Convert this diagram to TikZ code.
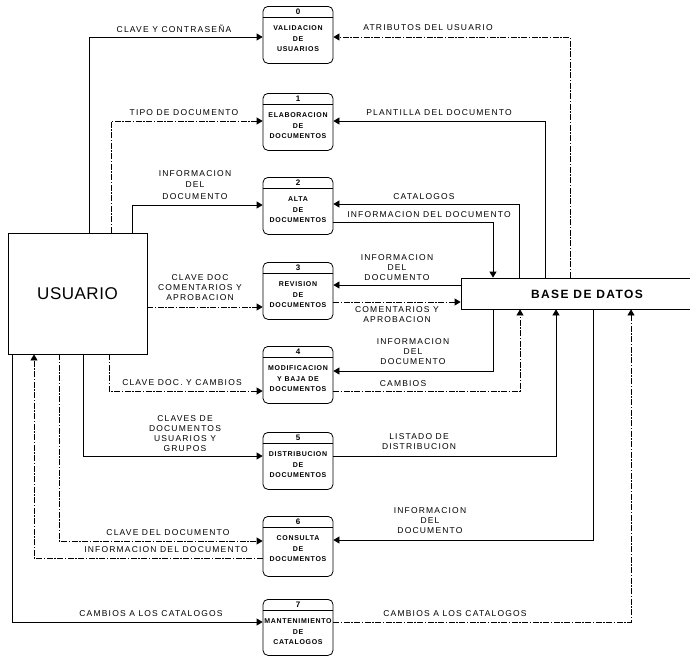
\documentclass[tikz,border=0pt]{standalone}
\usepackage{fontspec}
\setmainfont{Liberation Sans}
\newfontfamily\labfont[LetterSpace=14]{Liberation Sans}
\newfontfamily\boxfont[LetterSpace=10]{Liberation Sans}
\newfontfamily\dbfont[LetterSpace=12]{Liberation Sans}
\newfontfamily\usrfont[LetterSpace=3]{Liberation Sans}
\usetikzlibrary{arrows.meta,calc}
\newcommand\mkproc[8]{% name, x, top, height, num, l1, l2, l3
  \node[procbox, minimum height=#4pt, anchor=north] (#1) at (#2,#3) {};
  \draw ([yshift=-11pt]#1.north west) -- ([yshift=-11pt]#1.north east);
  \node[numtext] (#1n) at ([yshift=-5.5pt]#1.north) {#5};
  \node[boxtext] (#1t) at ([yshift=-33pt]#1.north) {#6\\#7\\#8};
}
\begin{document}
\begin{tikzpicture}[x=1pt,y=-1pt,line width=0.8pt,
  flow/.style={-{Triangle[length=6pt,width=7pt]}},
  dflow/.style={flow, dash pattern=on 6pt off 1.5pt on 1.5pt off 1.5pt},
  lab/.style={font=\labfont\fontsize{8.5}{10}\selectfont, align=center, inner sep=0pt},
  procbox/.style={draw, rounded corners=5pt, minimum width=70pt, inner sep=0pt},
  numtext/.style={font=\bfseries\fontsize{8}{9}\selectfont, inner sep=0pt},
  boxtext/.style={font=\boxfont\bfseries\fontsize{7}{10.5}\selectfont, align=center, inner sep=0pt},
  entity/.style={draw, minimum width=139pt, minimum height=121pt, inner sep=0pt,
    font=\usrfont\fontsize{17}{20}\selectfont},
  store/.style={draw, minimum width=239pt, minimum height=31pt, inner sep=0pt}
]
\useasboundingbox[fill=white] (0,0) rectangle (690,656);

% external entity and data store
\node[entity] (u) at (77.5,293.5) {USUARIO};
\node[store] (db) at (580.5,293.5) {};
\node[font=\dbfont\bfseries\fontsize{12}{14}\selectfont, inner sep=0pt] (dbt) at (587,294) {BASE DE DATOS};

% processes
\mkproc{p0}{298}{6}{57}{0}{VALIDACION}{DE}{USUARIOS}
\mkproc{p1}{298}{93}{57}{1}{ELABORACION}{DE}{DOCUMENTOS}
\mkproc{p2}{298}{177}{57}{2}{ALTA}{DE}{DOCUMENTOS}
\mkproc{p3}{298}{262}{57}{3}{REVISION}{DE}{DOCUMENTOS}
\mkproc{p4}{298}{346}{57}{4}{MODIFICACION}{Y BAJA DE}{DOCUMENTOS}
\mkproc{p5}{298}{432}{57}{5}{DISTRIBUCION}{DE}{DOCUMENTOS}
\mkproc{p6}{298}{516}{60}{6}{CONSULTA}{DE}{DOCUMENTOS}
\mkproc{p7}{298}{599}{56}{7}{MANTENIMIENTO}{DE}{CATALOGOS}

% flows from / to USUARIO
\draw[flow] (89,0 |- u.north) |- (p0.west |- 0,37);
\draw[dflow] (111,0 |- u.north) |- (p1.west |- 0,121);
\draw[flow] (132,0 |- u.north) |- (p2.west |- 0,205);
\draw[dflow] (u.east |- 0,307) -- (p3.west |- 0,307);
\draw[dflow] (109,0 |- u.south) |- (p4.west |- 0,391);
\draw[flow] (83,0 |- u.south) |- (p5.west |- 0,456);
\draw[dflow] (59,0 |- u.south) |- (p6.west |- 0,541);
\draw[dflow] (p6.west |- 0,558) -| (34,0 |- u.south);
\draw[flow] (12,0 |- u.south) |- (p7.west |- 0,622);

% flows from / to BASE DE DATOS
\draw[dflow] (570,0 |- db.north) |- (p0.east |- 0,37);
\draw[flow] (545,0 |- db.north) |- (p1.east |- 0,121);
\draw[flow] (519,0 |- db.north) |- (p2.east |- 0,204);
\draw[flow] (p2.east |- 0,222) -| (493,0 |- db.north);
\draw[flow] (db.west |- 0,285) -- (p3.east |- 0,285);
\draw[dflow] (p3.east |- 0,302) -- (db.west |- 0,302);
\draw[flow] (493,0 |- db.south) |- (p4.east |- 0,371);
\draw[dflow] (p4.east |- 0,391) -| (520,0 |- db.south);
\draw[flow] (p5.east |- 0,456) -| (556,0 |- db.south);
\draw[flow] (593,0 |- db.south) |- (p6.east |- 0,540);
\draw[dflow] (p7.east |- 0,622) -| (631,0 |- db.south);

% labels, left
\node[lab] (l1) at (174,29) {CLAVE Y CONTRASEÑA};
\node[lab] (l2) at (184,113) {TIPO DE DOCUMENTO};
\node[lab] (l3) at (195,185) {INFORMACION\\[1.5pt]DEL\\[1.5pt]DOCUMENTO};
\node[lab] (l4) at (200,287.5) {CLAVE DOC\\COMENTARIOS Y\\APROBACION};
\node[lab] (l5) at (182,383) {CLAVE DOC. Y CAMBIOS};
\node[lab] (l6) at (185,433.5) {CLAVES DE\\DOCUMENTOS\\USUARIOS Y\\GRUPOS};
\node[lab] (l7) at (168,533) {CLAVE DEL DOCUMENTO};
\node[lab] (l8) at (166,550) {INFORMACION DEL DOCUMENTO};
\node[lab] (l9) at (151,614) {CAMBIOS A LOS CATALOGOS};

% labels, right
\node[lab] (l10) at (428,28) {ATRIBUTOS DEL USUARIO};
\node[lab] (l11) at (439,113) {PLANTILLA DEL DOCUMENTO};
\node[lab] (l12) at (424,197) {CATALOGOS};
\node[lab] (l13) at (429,215) {INFORMACION DEL DOCUMENTO};
\node[lab] (l14) at (397,268) {INFORMACION\\DEL\\DOCUMENTO};
\node[lab] (l15) at (397,314.5) {COMENTARIOS Y\\APROBACION};
\node[lab] (l16) at (413,352) {INFORMACION\\DEL\\DOCUMENTO};
\node[lab] (l17) at (403,384) {CAMBIOS};
\node[lab] (l18) at (419,442) {LISTADO DE\\DISTRIBUCION};
\node[lab] (l19) at (430,521) {INFORMACION\\DEL\\DOCUMENTO};
\node[lab] (l20) at (455,614) {CAMBIOS A LOS CATALOGOS};
\end{tikzpicture}
\end{document}
